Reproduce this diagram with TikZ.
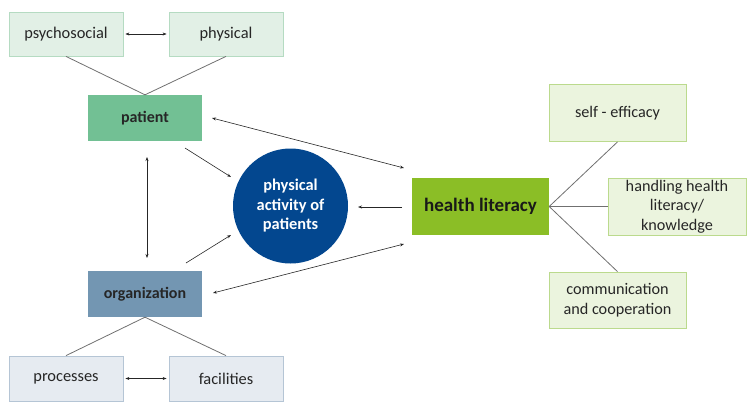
\documentclass[tikz,border=0pt]{standalone}
\usepackage{fontspec}
\setmainfont{Carlito}
\usetikzlibrary{arrows.meta}
\definecolor{pgfill}{HTML}{E2F0E6}
\definecolor{pgdraw}{HTML}{B5DBC2}
\definecolor{patfill}{HTML}{72C094}
\definecolor{orgfill}{HTML}{7396B2}
\definecolor{pbfill}{HTML}{E6EBF1}
\definecolor{pbdraw}{HTML}{B5C5D5}
\definecolor{circfill}{HTML}{03478F}
\definecolor{hlfill}{HTML}{8BBE26}
\definecolor{rgfill}{HTML}{EBF4DE}
\definecolor{rgdraw}{HTML}{BBDA8D}
\definecolor{linegray}{HTML}{707070}
\tikzset{
  box/.style={rectangle, inner sep=2pt, align=center, font=\fontsize{16.4}{19.5}\selectfont, text=black!85},
  greenbox/.style={box, fill=pgfill, draw=pgdraw, line width=0.8pt, minimum width=114pt, minimum height=44pt},
  bluebox/.style={box, fill=pbfill, draw=pbdraw, line width=0.8pt, minimum width=114pt, minimum height=45pt},
  rightbox/.style={box, fill=rgfill, draw=rgdraw, line width=0.8pt, minimum width=137pt, minimum height=57pt, font=\fontsize{16.2}{19.5}\selectfont},
  mainbox/.style={rectangle, draw=none, minimum width=114pt, minimum height=46pt, font=\bfseries\fontsize{16}{19}\selectfont, text=black!85},
  conn/.style={draw=linegray, line width=0.8pt},
  arr/.style={draw=black!85, line width=0.6pt, -{Stealth[length=4pt,width=3pt]}},
  darr/.style={draw=black!85, line width=0.6pt, {Stealth[length=4pt,width=3pt]}-{Stealth[length=4pt,width=3pt]}}
}
\begin{document}
\begin{tikzpicture}[x=1pt,y=-1pt]
\useasboundingbox (0,0) rectangle (747,413);
\node[greenbox] (psy) at (66,34) {psychosocial};
\node[greenbox] (phy) at (226,34) {physical};
\node[mainbox, fill=patfill] (pat) at (145,118) {patient};
\node[mainbox, fill=orgfill] (org) at (145,294) {organization};
\node[bluebox] (proc) at (66,378.5) {processes};
\node[bluebox] (fac) at (226,378.5) {facilities};
\node[circle, fill=circfill, minimum size=115pt, inner sep=0pt, align=center, text=white, font=\bfseries\fontsize{16.4}{19.5}\selectfont] (act) at (290.5,206) {physical\\activity of\\patients};
\node[rectangle, fill=hlfill, minimum width=137pt, minimum height=57pt, font=\bfseries\fontsize{19}{22}\selectfont, text=black!90] (hl) at (480.5,206.5) {health literacy};
\node[rightbox] (se) at (617.5,113) {self - efficacy};
\node[rightbox, minimum width=138pt] (hh) at (677,206.5) {handling health\\literacy/\\knowledge};
\node[rightbox, minimum height=56pt] (cc) at (617.5,300) {communication\\and cooperation};
% tree lines
\draw[conn] (psy.south) -- (pat.north);
\draw[conn] (phy.south) -- (pat.north);
\draw[conn] (org.south) -- (proc.north);
\draw[conn] (org.south) -- (fac.north);
\draw[conn] (hl.east) -- (se.south);
\draw[conn] (hl.east) -- (hh.west);
\draw[conn] (hl.east) -- (cc.north);
% arrows
\draw[darr] ([xshift=2pt]psy.east) -- ([xshift=-2pt]phy.west);
\draw[darr] ([xshift=2pt]proc.east) -- ([xshift=-2pt]fac.west);
\coordinate (pv1) at (147,157);
\coordinate (pv2) at (147,258);
\draw[darr] (pv1) -- (pv2);
\coordinate (pa) at (185,148);
\coordinate (pb) at (231,177);
\draw[arr] (pa) -- (pb);
\coordinate (oa) at (186,263);
\coordinate (ob) at (231,235);
\draw[arr] (oa) -- (ob);
\coordinate (ph1) at (212,118);
\coordinate (ph2) at (404,168);
\draw[darr] (ph1) -- (ph2);
\coordinate (oh1) at (213,293);
\coordinate (oh2) at (404,244);
\draw[darr] (oh1) -- (oh2);
\coordinate (ha) at (402,207);
\coordinate (hb) at (358,207);
\draw[arr] (ha) -- (hb);
\end{tikzpicture}
\end{document}
